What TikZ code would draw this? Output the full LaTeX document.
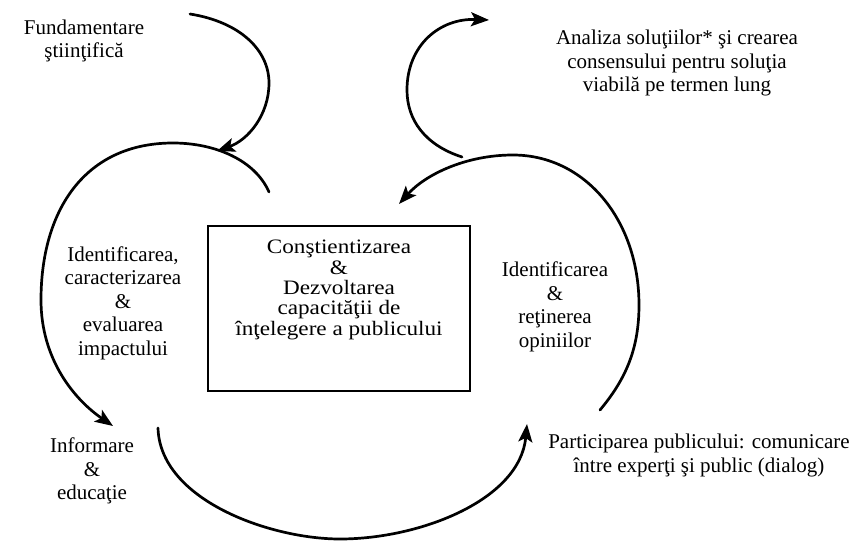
\documentclass[tikz,border=0pt]{standalone}
\usepackage{fontspec}
\setmainfont{Liberation Serif}
\newfontfamily\boxfont{Liberation Serif}[FakeStretch=1.13]
\usetikzlibrary{arrows.meta}
\begin{document}
\begin{tikzpicture}[x=1pt,y=-1pt,
  lbl/.style={align=center, inner sep=0pt, font=\fontsize{21}{23.5}\selectfont},
  boxtxt/.style={align=center, inner sep=0pt, font=\boxfont\fontsize{20.5}{20.3}\selectfont},
  centrebox/.style={draw, line width=1.8pt, minimum width=262pt, minimum height=165pt, inner sep=0pt},
  cycle/.style={line width=2.7pt, line cap=round},
  flow/.style={cycle, -{Stealth[length=18pt,width=14pt,inset=4pt]}}]
\useasboundingbox (0,0) rectangle (860,543);

% central box and its text
\node[centrebox] (box) at (339,308.5) {};
\node[boxtxt] (boxtext) at (339,290)
  {Conştientizarea\\\&\\Dezvoltarea\\capacităţii de\\înţelegere a publicului};

% labels around the cycle
\node[lbl] (fund)   at (84,41)    {Fundamentare\\ştiinţifică};
\node[lbl] (anal)   at (677,63)   {Analiza soluţiilor* şi crearea\\consensului pentru soluţia\\viabilă pe termen lung};
\node[lbl] (ident)  at (123,303)  {Identificarea,\\caracterizarea\\\&\\evaluarea\\impactului};
\node[lbl] (info)   at (92,471)   {Informare\\\&\\educaţie};
\node[lbl] (opin)   at (555,307)  {Identificarea\\\&\\reţinerea\\opiniilor};
\node[lbl] (part)   at (699,455.5){Participarea publicului: comunicare\\între experţi şi public (dialog)};

% arc end points
\coordinate (a1s) at (190,14);
\coordinate (a1e) at (217,151);
\coordinate (a2s) at (269,192);
\coordinate (a2e) at (113,426);
\coordinate (a3s) at (158,428);
\coordinate (a3e) at (527,424);
\coordinate (a4s) at (600,410);
\coordinate (a4e) at (399,204);
\coordinate (a5s) at (462,157);
\coordinate (a5e) at (489,20);

% scientific grounding feeding into the cycle
\draw[flow] (a1s) .. controls (240,22) and (269,50) .. (269,83)
                  .. controls (269,115) and (248,140) .. (a1e);
% left part of the cycle
\draw[flow] (a2s) .. controls (255,160) and (215,143) .. (173,143)
                  .. controls (85,143) and (41,210) .. (41,300)
                  .. controls (41,360) and (75,400) .. (a2e);
% bottom part of the cycle
\draw[flow] (a3s) .. controls (160,500) and (270,539) .. (340,539)
                  .. controls (420,539) and (520,500) .. (a3e);
% right part of the cycle
\draw[flow] (a4s) .. controls (625,380) and (639,350) .. (639,305)
                  .. controls (639,220) and (585,155) .. (513,155)
                  .. controls (465,155) and (425,175) .. (a4e);
% branch towards the analysis of solutions
\draw[flow] (a5s) .. controls (425,145) and (407,120) .. (407,90)
                  .. controls (407,45) and (440,18) .. (a5e);
\end{tikzpicture}
\end{document}
